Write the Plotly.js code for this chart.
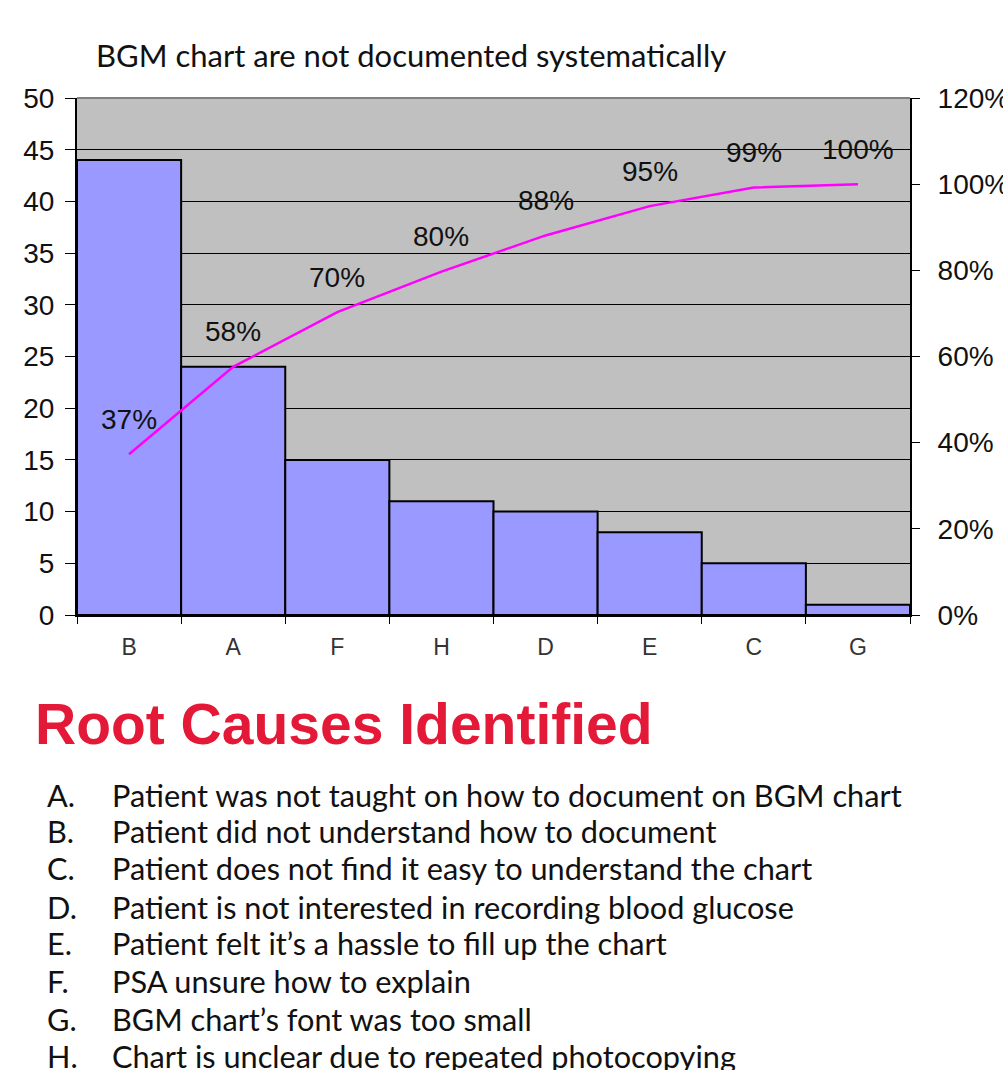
<!DOCTYPE html>
<html>
<head>
<meta charset="utf-8">
<script src="https://cdn.plot.ly/plotly-3.0.1.min.js"></script>
<style>html,body{margin:0;padding:0;background:#fff;}</style>
</head>
<body>
<div id="chart" style="width:1003px;height:1070px;"></div>
<script>
const categories = ['B','A','F','H','D','E','C','G'];
const counts = [44,24,15,11,10,8,5,1];
const cumulativePct = [37.3,57.6,70.3,79.7,88.1,94.9,99.2,100];
const pctLabels = ['37%','58%','70%','80%','88%','95%','99%','100%'];
const leftTicks = [0,5,10,15,20,25,30,35,40,45,50];
const rightTicks = [0,20,40,60,80,100,120];
const rightTickText = ['0%','20%','40%','60%','80%','100%','120%'];
const chartTitle = 'BGM chart are not documented systematically';
const sectionTitle = 'Root Causes Identified';
const causeLetters = ['A.','B.','C.','D.','E.','F.','G.','H.'];
const causeTexts = [
  'Patient was not taught on how to document on BGM chart',
  'Patient did not understand how to document',
  'Patient does not find it easy to understand the chart',
  'Patient is not interested in recording blood glucose',
  'Patient felt it\u2019s a hassle to fill up the chart',
  'PSA unsure how to explain',
  'BGM chart\u2019s font was too small',
  'Chart is unclear due to repeated photocopying'
];

// pixel -> paper helpers
const PL = 77, PR = 910, PT = 98, PB = 615;
const px = x => (x - PL) / (PR - PL);
const py = y => (PB - y) / (PB - PT);

const textFont = 'Lato, Carlito, Calibri, sans-serif';
const arialFont = 'Liberation Sans, Arial, sans-serif';

const traces = [
  {
    type: 'bar', x: categories, y: counts,
    marker: {color: '#9999FF', line: {color: '#000', width: 2}},
    hoverinfo: 'skip'
  },
  {
    type: 'scatter', mode: 'lines', x: categories, y: cumulativePct, yaxis: 'y2',
    line: {color: '#FF00FF', width: 2.5}, hoverinfo: 'skip'
  }
];

const annotations = [];
pctLabels.forEach((t, i) => annotations.push({
  xref: 'x', yref: 'y2', x: categories[i], y: cumulativePct[i], text: t,
  showarrow: false, yshift: 35, font: {family: arialFont, size: 28, color: '#111'}
}));
annotations.push({
  xref: 'paper', yref: 'paper', x: px(411), y: py(55), text: chartTitle,
  showarrow: false, xanchor: 'center', yanchor: 'middle',
  font: {family: textFont, size: 31, color: '#111'}
});
annotations.push({
  xref: 'paper', yref: 'paper', x: px(33), y: py(724), text: '<b>' + sectionTitle + '</b>',
  showarrow: false, xanchor: 'left', yanchor: 'middle',
  font: {family: arialFont, size: 57, color: '#E31937'}
});
const rowY = [795, 831, 868, 907, 944, 981, 1019, 1056];
causeLetters.forEach((l, i) => {
  annotations.push({
    xref: 'paper', yref: 'paper', x: px(45), y: py(rowY[i]), text: l,
    showarrow: false, xanchor: 'left', yanchor: 'middle',
    font: {family: textFont, size: 30.7, color: '#111'}
  });
  annotations.push({
    xref: 'paper', yref: 'paper', x: px(110), y: py(rowY[i]), text: causeTexts[i],
    showarrow: false, xanchor: 'left', yanchor: 'middle',
    font: {family: textFont, size: 30.7, color: '#111'}
  });
});

const layout = {
  width: 1003, height: 1070,
  margin: {l: PL, r: 1003 - PR, t: PT, b: 1070 - PB, pad: 0},
  paper_bgcolor: '#fff', plot_bgcolor: '#C0C0C0',
  showlegend: false, bargap: 0,
  xaxis: {
    type: 'category', range: [-0.5, 7.5], showgrid: false, zeroline: false,
    showline: true, linecolor: '#000', linewidth: 2,
    ticks: 'outside', tickson: 'boundaries', ticklen: 7, tickcolor: '#000', tickwidth: 1,
    ticklabelstandoff: 10,
    tickfont: {family: arialFont, size: 23, color: '#333'}
  },
  yaxis: {
    range: [0, 50], tickvals: leftTicks, showgrid: true, gridcolor: '#000', gridwidth: 1,
    zeroline: false, showline: true, linecolor: '#000', linewidth: 2,
    ticks: 'outside', ticklen: 10, tickcolor: '#000', tickwidth: 1,
    ticklabelstandoff: 5,
    tickfont: {family: arialFont, size: 28, color: '#111'}
  },
  yaxis2: {
    overlaying: 'y', side: 'right', range: [0, 120], tickvals: rightTicks, ticktext: rightTickText,
    showgrid: false, zeroline: false, showline: true, linecolor: '#000', linewidth: 2,
    ticks: 'outside', ticklen: 8, tickcolor: '#000', tickwidth: 1,
    ticklabelstandoff: 12,
    tickfont: {family: arialFont, size: 28, color: '#111'}
  },
  shapes: [
    {type: 'line', xref: 'paper', yref: 'paper', x0: 0, x1: 1, y0: 1, y1: 1,
     line: {color: '#808080', width: 2}}
  ],
  annotations: annotations
};

Plotly.newPlot('chart', traces, layout, {staticPlot: true, displayModeBar: false});
</script>
</body>
</html>
